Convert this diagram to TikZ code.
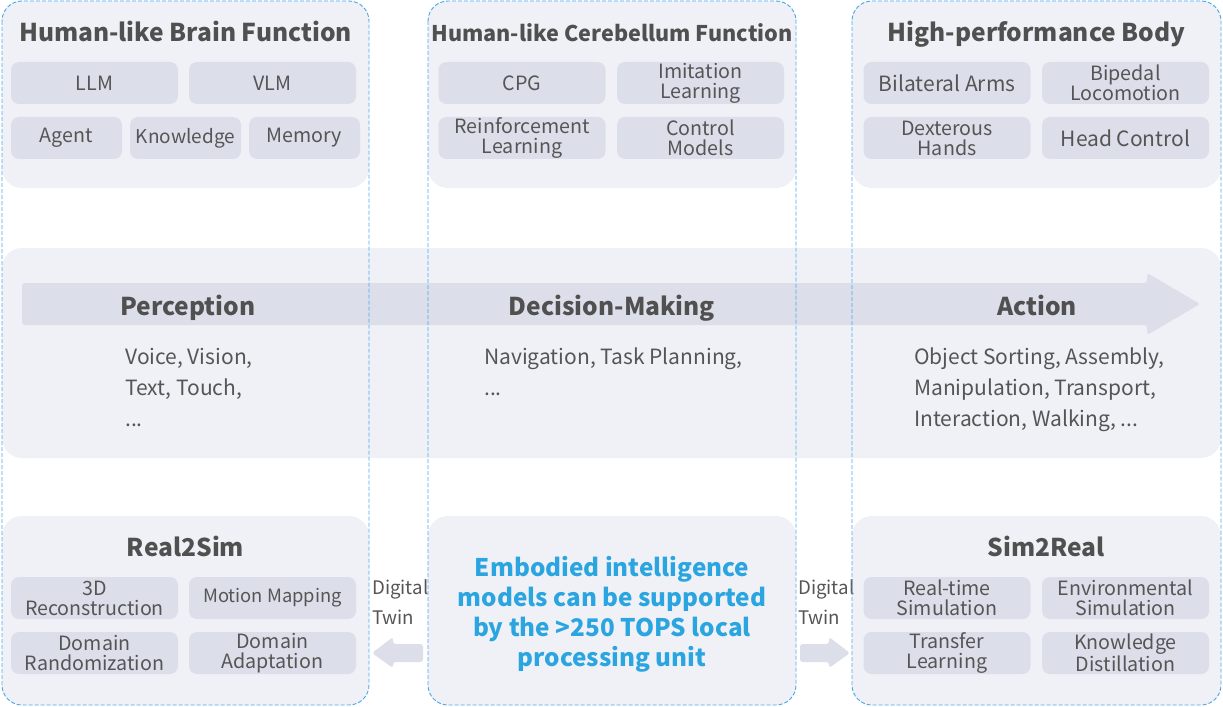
\documentclass[tikz,border=0pt]{standalone}
\usepackage{fontspec}
\setmainfont{Noto Sans CJK SC}
\usetikzlibrary{arrows.meta}

\definecolor{panelbg}{RGB}{240,241,247}
\definecolor{chipbg}{RGB}{220,223,234}
\definecolor{txtgray}{RGB}{85,85,85}
\definecolor{titlegray}{RGB}{80,80,80}
\definecolor{dashblue}{RGB}{74,168,232}
\definecolor{unitblue}{RGB}{42,165,224}

\begin{document}
\begin{tikzpicture}[
  x=0.75pt, y=-0.75pt,
  panel/.style={fill=panelbg, rounded corners=15pt},
  column/.style={draw=dashblue, line width=0.7pt, dash pattern=on 3pt off 1.5pt,
                 rounded corners=15pt},
  chip/.style={fill=chipbg, rounded corners=6pt, text=txtgray, align=center,
               inner sep=0pt, minimum width=125.25pt, minimum height=31.5pt,
               font=\fontsize{14.75}{15}\selectfont},
  smallchip/.style={chip, minimum width=83.25pt},
  title/.style={text=titlegray, anchor=base, font=\bfseries\fontsize{18.4}{20}\selectfont},
  body/.style={text=txtgray, align=left, anchor=north west, inner sep=0pt,
               font=\fontsize{15.75}{23.25}\selectfont},
  twin/.style={text=txtgray, align=left, anchor=north west, inner sep=0pt,
               font=\fontsize{14}{22.5}\selectfont},
  flow/.style={fill=chipbg, rounded corners=2pt},
]
\useasboundingbox (0,0) rectangle (1223,706);

% ── Background panels ──────────────────────────────────────────────────
\path[panel] (2,1)   rectangle (369,188);
\path[panel] (428,1) rectangle (796,188);
\path[panel] (852,1) rectangle (1221,188);
\path[panel] (2,248) rectangle (1221,458);
\path[panel] (2,516)   rectangle (369,705);
\path[panel] (428,516) rectangle (796,705);
\path[panel] (852,516) rectangle (1221,705);

% ── Top: Brain ─────────────────────────────────────────────────────────
\node[title] (brain) at (185.5,42) {Human-like Brain Function};
\node[chip]      (llm)   at (94.5,83)   {LLM};
\node[chip]      (vlm)   at (272.5,83)  {VLM};
\node[smallchip] (agent) at (66.5,138)  {Agent};
\node[smallchip, font=\fontsize{14.25}{15}\selectfont] (know) at (185.5,138) {Knowledge};
\node[smallchip] (mem)   at (304.5,138) {Memory};

% ── Top: Cerebellum ────────────────────────────────────────────────────
\node[title, font=\bfseries\fontsize{16.2}{18}\selectfont] (cereb) at (612,41.5)
  {Human-like Cerebellum Function};
\node[chip] (cpg)   at (522,83)    {CPG};
\node[chip] (imit)  at (700.5,83)  {Imitation\\Learning};
\node[chip] (reinf) at (522,138)   {Reinforcement\\Learning};
\node[chip] (ctrl)  at (700.5,138) {Control\\Models};

% ── Top: Body ──────────────────────────────────────────────────────────
\node[title] (body) at (1036.5,42) {High-performance Body};
\node[chip, font=\fontsize{15.75}{15}\selectfont] (arms) at (947,83) {Bilateral Arms};
\node[chip] (biped) at (1125.5,83)  {Bipedal\\Locomotion};
\node[chip] (hands) at (947,138)    {Dexterous\\Hands};
\node[chip, font=\fontsize{15.75}{15}\selectfont] (head) at (1125.5,138) {Head Control};

% ── Middle: flow arrow ─────────────────────────────────────────────────
\path[flow] (22,283) -- (1147,283) -- (1147,273) -- (1200,304)
  -- (1147,335) -- (1147,325) -- (22,325) -- cycle;
\node[title] (perc) at (188,315)  {Perception};
\node[title] (dec)  at (612,315)  {Decision-Making};
\node[title] (act)  at (1037,315) {Action};

\node[body] (perctxt) at (125,348) {Voice, Vision,\\Text, Touch,\\...};
\node[body] (dectxt)  at (484,348) {Navigation, Task Planning,\\...};
\node[body] (acttxt)  at (914,348)
  {Object Sorting, Assembly,\\Manipulation, Transport,\\Interaction, Walking, ...};

% ── Bottom: Real2Sim ───────────────────────────────────────────────────
\node[title] (r2s) at (185.5,556) {Real2Sim};
\node[chip] (recon) at (94.5,598)  {3D\\Reconstruction};
\node[chip, font=\fontsize{13.75}{15}\selectfont] (mmap) at (272.5,598) {Motion Mapping};
\node[chip] (drand) at (94.5,653)  {Domain\\Randomization};
\node[chip] (dadap) at (272.5,653) {Domain\\Adaptation};

% ── Bottom: processing unit ────────────────────────────────────────────
\node[text=unitblue, align=center, font=\bfseries\fontsize{18.2}{22.5}\selectfont]
  (unit) at (612,614.5)
  {Embodied intelligence\\models can be supported\\by the >250 TOPS local\\processing unit};

\node[twin] (twinl) at (372,579) {Digital\\Twin};
\node[twin] (twinr) at (798,579) {Digital\\Twin};
\path[flow] (423,644) -- (393,644) -- (393,637) -- (372,653)
  -- (393,668) -- (393,662) -- (423,662) -- cycle;
\path[flow] (800,644) -- (829,644) -- (829,637) -- (850,653)
  -- (829,668) -- (829,662) -- (800,662) -- cycle;

% ── Bottom: Sim2Real ───────────────────────────────────────────────────
\node[title] (s2r) at (1046,556) {Sim2Real};
\node[chip] (rtsim)  at (947,598)    {Real-time\\Simulation};
\node[chip] (envsim) at (1125.5,598) {Environmental\\Simulation};
\node[chip] (trans)  at (947,653)    {Transfer\\Learning};
\node[chip] (distil) at (1125.5,653) {Knowledge\\Distillation};

% ── Dashed columns ─────────────────────────────────────────────────────
\draw[column] (2,1)   rectangle (369,705);
\draw[column] (428,1) rectangle (796,705);
\draw[column] (852,1) rectangle (1221,705);

\end{tikzpicture}
\end{document}
